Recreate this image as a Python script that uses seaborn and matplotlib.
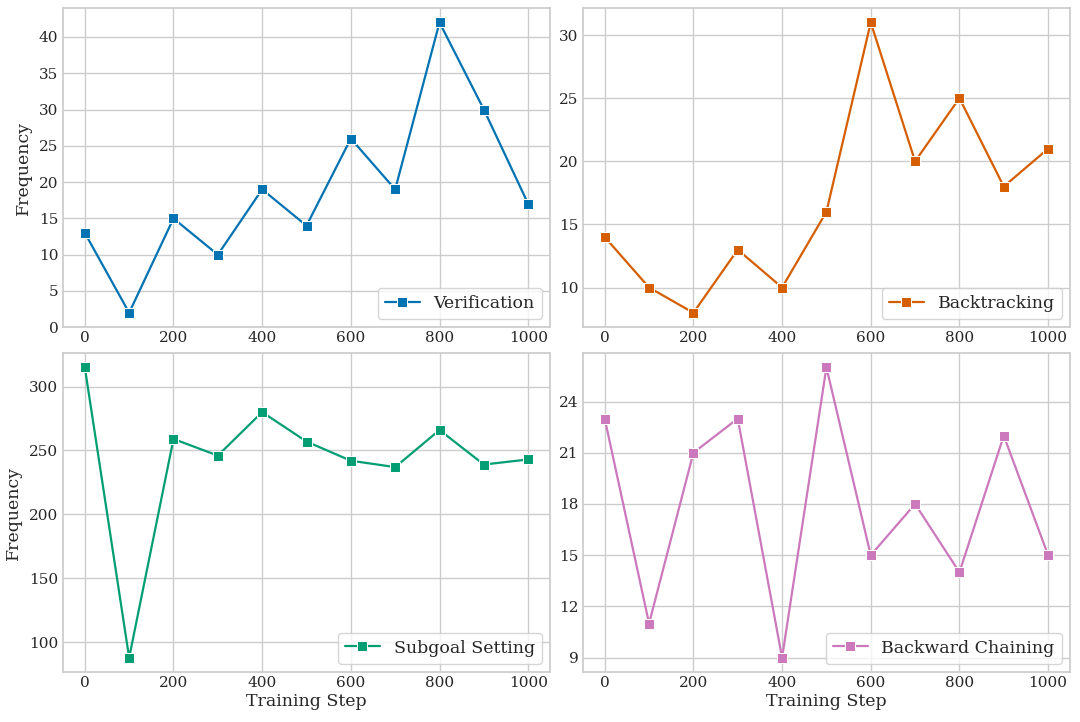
import numpy as np
import pandas as pd
import matplotlib.pyplot as plt
import seaborn as sns

steps = [0, 100, 200, 300, 400, 500, 600, 700, 800, 900, 1000]
verification = [13, 2, 15, 10, 19, 14, 26, 19, 42, 30, 17]
backtracking = [14, 10, 8, 13, 10, 16, 31, 20, 25, 18, 21]
subgoal_setting = [315, 88, 259, 246, 280, 257, 242, 237, 266, 239, 243]
backward_chaining = [23, 11, 21, 23, 9, 26, 15, 18, 14, 22, 15]
bc_yticks = [9, 12, 15, 18, 21, 24]

sns.set_theme(style="whitegrid", palette="colorblind")
plt.rcParams["font.family"] = ["DejaVu Serif"]
pal = sns.color_palette("colorblind")

series = [
    ("Verification", verification, pal[0]),
    ("Backtracking", backtracking, pal[3]),
    ("Subgoal Setting", subgoal_setting, pal[2]),
    ("Backward Chaining", backward_chaining, pal[4]),
]

fig, axes = plt.subplots(2, 2, figsize=(10.8, 7.22), dpi=100)
for i, (name, vals, color) in enumerate(series):
    ax = axes.flat[i]
    df = pd.DataFrame({"step": steps, "freq": vals})
    sns.lineplot(data=df, x="step", y="freq", marker="s", markersize=7.5,
                 color=color, linewidth=1.6, label=name, ax=ax)
    ax.set_xticks([0, 200, 400, 600, 800, 1000])
    ax.tick_params(labelsize=11, length=0, pad=3)
    ax.set_xlabel("Training Step" if i >= 2 else "", fontsize=12.5, labelpad=2)
    ax.set_ylabel("Frequency" if i % 2 == 0 else "", fontsize=12.5, labelpad=5)
    ax.legend(loc="lower right", fontsize=12.5)
    if name == "Backward Chaining":
        ax.set_yticks(bc_yticks)

plt.subplots_adjust(left=0.058, right=0.991, top=0.989, bottom=0.069,
                    wspace=0.066, hspace=0.08)
fig.savefig("out.png", dpi=100)
